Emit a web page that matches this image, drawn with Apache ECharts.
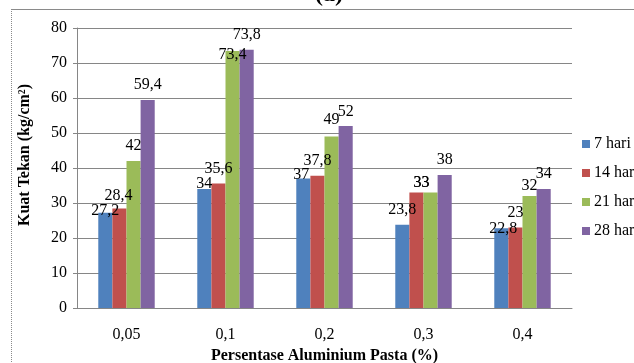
<!DOCTYPE html>
<html>
<head>
<meta charset="utf-8">
<script src="https://cdn.jsdelivr.net/npm/echarts@6/dist/echarts.min.js"></script>
<style>html,body{margin:0;padding:0;background:#fff}#c{width:634px;height:363px}</style>
</head>
<body>
<div id="c"></div>
<script>
const categories = ['0,05', '0,1', '0,2', '0,3', '0,4'];
const seriesNames = ['7 hari', '14 hari', '21 hari', '28 hari'];
const hari7 = [27.2, 34, 37, 23.8, 22.8];
const hari14 = [28.4, 35.6, 37.8, 33, 23];
const hari21 = [42, 73.4, 49, 33, 32];
const hari28 = [59.4, 73.8, 52, 38, 34];
const yTicks = [0, 10, 20, 30, 40, 50, 60, 70, 80];

// label nudges (style only): [series, index, dx, dy]
const labelNudges = [
  [0, 0, 0, 13], [0, 1, 0, 10], [0, 2, -2, 11], [0, 4, 2, 16],
  [1, 0, -1, 2], [1, 3, 5, 5],
  [2, 1, 0, 19], [2, 2, 0, -2], [2, 3, -9, 5], [2, 4, 0, 5],
  [3, 2, 0, 1]
];

const colors = ['#4F81BD', '#C0504D', '#9BBB59', '#8064A2'];
const font = '"Liberation Serif", "DejaVu Serif", serif';
const allData = [hari7, hari14, hari21, hari28];

function seriesData(si) {
  return allData[si].map((v, di) => {
    const n = labelNudges.find(a => a[0] === si && a[1] === di);
    return n ? { value: v, label: { offset: [n[2], n[3]] } } : v;
  });
}

const chart = echarts.init(document.getElementById('c'));
chart.setOption({
  animation: false,
  color: colors,
  textStyle: { fontFamily: font },
  grid: { left: 77, right: 62, top: 28, bottom: 55, containLabel: false, outerBoundsMode: 'none' },
  legend: {
    orient: 'vertical',
    left: 577, top: 131,
    itemWidth: 8, itemHeight: 8, itemGap: 13,
    icon: 'rect',
    textStyle: { fontFamily: font, fontSize: 16, color: '#000', padding: [0, 0, 0, -1] },
    data: seriesNames
  },
  xAxis: {
    type: 'category',
    data: categories,
    name: 'Persentase Aluminium Pasta (%)',
    nameLocation: 'middle',
    nameGap: 40,
    nameTextStyle: { fontFamily: font, fontSize: 16, fontWeight: 'bold', color: '#000' },
    axisLine: { lineStyle: { color: '#868686' } },
    axisTick: { show: false },
    axisLabel: { fontFamily: font, fontSize: 16, color: '#000', margin: 19 }
  },
  yAxis: {
    type: 'value',
    min: yTicks[0], max: yTicks[yTicks.length - 1], interval: 10,
    name: 'Kuat Tekan (kg/cm²)',
    nameLocation: 'middle',
    nameGap: 44,
    nameTextStyle: { fontFamily: font, fontSize: 16, fontWeight: 'bold', color: '#000', padding: [0, 0, 0, 26] },
    axisLine: { show: true, lineStyle: { color: '#868686' } },
    axisTick: { show: true, length: 4, inside: false, lineStyle: { color: '#868686' } },
    splitLine: { lineStyle: { color: '#868686' } },
    axisLabel: { fontFamily: font, fontSize: 16, color: '#000', margin: 10 }
  },
  graphic: [
    { type: 'line', shape: { x1: 11, y1: 9.5, x2: 634, y2: 9.5 }, style: { stroke: '#8a8a8a', lineWidth: 1 } },
    { type: 'line', shape: { x1: 11.5, y1: 9, x2: 11.5, y2: 363 }, style: { stroke: '#8a8a8a', lineWidth: 1, lineDash: [1, 1] } },
    { type: 'text', left: 315, top: -17, style: { text: '(a)', font: 'bold 24px "Liberation Serif", serif', fill: '#000' } }
  ],
  series: seriesNames.map((n, i) => ({
    name: n,
    type: 'bar',
    data: seriesData(i),
    barGap: '0%',
    barCategoryGap: '43%',
    label: {
      show: true, position: 'top', distance: 7,
      fontFamily: font, fontSize: 16, color: '#000',
      formatter: p => String(p.value).replace('.', ',')
    }
  }))
});
</script>
</body>
</html>
